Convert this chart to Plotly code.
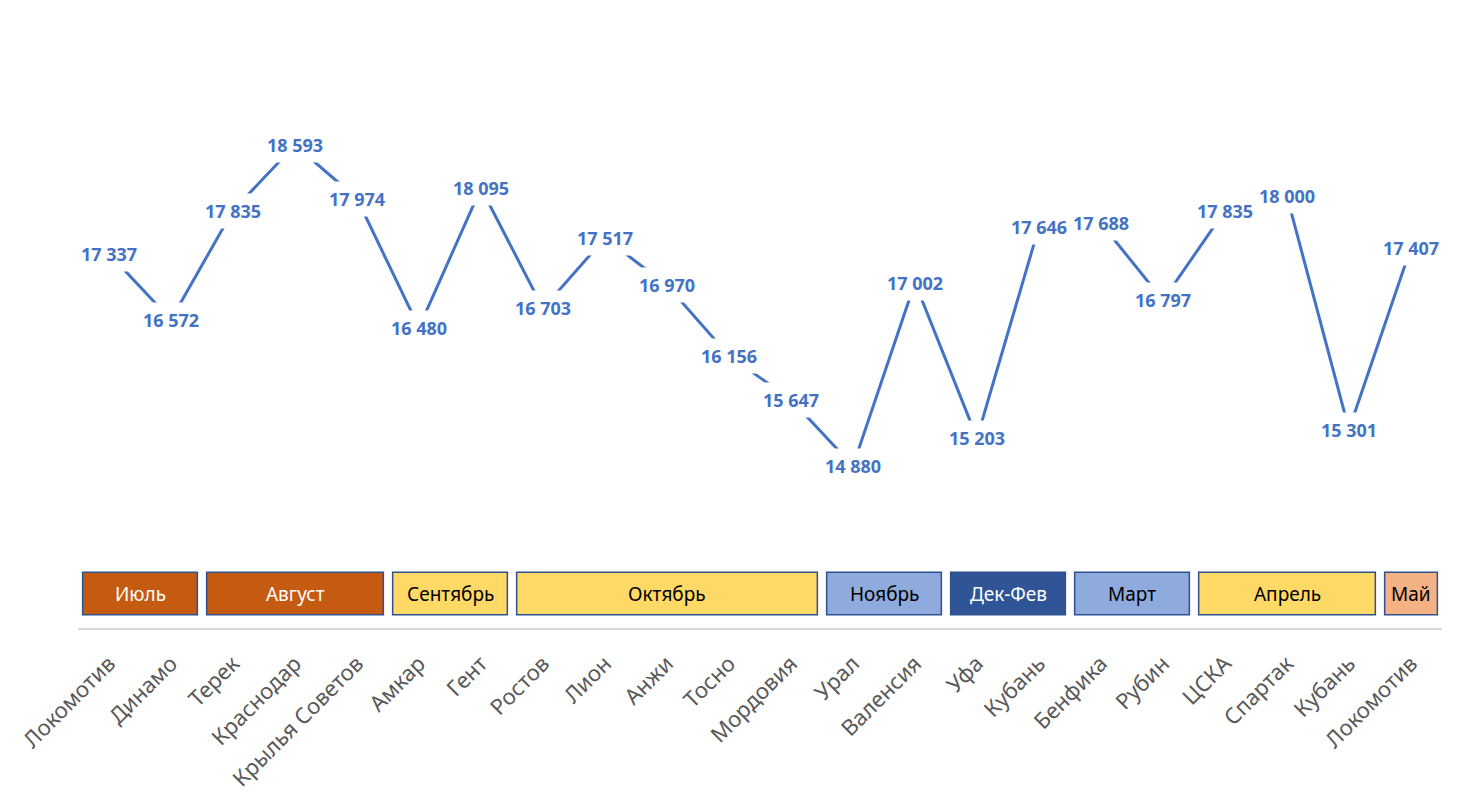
import plotly.graph_objects as go

teams = ["Локомотив", "Динамо", "Терек", "Краснодар", "Крылья Советов", "Амкар", "Гент",
         "Ростов", "Лион", "Анжи", "Тосно", "Мордовия", "Урал", "Валенсия", "Уфа", "Кубань",
         "Бенфика", "Рубин", "ЦСКА", "Спартак", "Кубань", "Локомотив"]
attendance = [17337, 16572, 17835, 18593, 17974, 16480, 18095, 16703, 17517, 16970, 16156,
              15647, 14880, 17002, 15203, 17646, 17688, 16797, 17835, 18000, 15301, 17407]

months = ["Июль", "Август", "Сентябрь", "Октябрь", "Ноябрь", "Дек-Фев", "Март", "Апрель", "Май"]
month_counts = [2, 3, 2, 5, 2, 2, 2, 3, 1]
month_fill = ["#C55A11", "#C55A11", "#FFD966", "#FFD966", "#8FAADC", "#2F5597", "#8FAADC", "#FFD966", "#F4B183"]
month_text = ["white", "white", "black", "black", "black", "white", "black", "black", "black"]

x = list(range(len(teams)))
FONT = "Noto Sans"
BLUE = "#4472C4"

fig = go.Figure()
fig.add_trace(go.Scatter(x=x, y=attendance, mode="lines",
                         line=dict(color=BLUE, width=3), hoverinfo="skip"))

for xi, v in zip(x, attendance):
    fig.add_annotation(x=xi, y=v, xref="x", yref="y", showarrow=False,
                       xanchor="center", yanchor="middle",
                       text=f"{v:,}".replace(",", " "),
                       font=dict(family=FONT, size=18, color=BLUE, weight="bold"),
                       bgcolor="white", borderpad=5)

start = 0
gap = 0.075
for m, c, fc, tc in zip(months, month_counts, month_fill, month_text):
    x0 = start - 0.5 + gap
    x1 = start + c - 0.5 - gap
    fig.add_shape(type="rect", xref="x", yref="paper", x0=x0, x1=x1, y0=0.0212, y1=0.0899,
                  fillcolor=fc, line=dict(color="#2F528F", width=1.5), layer="above")
    fig.add_annotation(x=(x0 + x1) / 2, y=0.0556, xref="x", yref="paper", showarrow=False,
                       xanchor="center", yanchor="middle",
                       text=m, font=dict(family=FONT, size=19, color=tc))
    start += c

fig.update_layout(
    width=1444, height=786,
    margin=dict(l=70, r=10, t=0, b=166),
    plot_bgcolor="white", paper_bgcolor="white",
    showlegend=False,
    xaxis=dict(range=[-0.5, len(teams) - 0.5], tickmode="array", tickvals=x, ticktext=teams,
               tickangle=-45, showgrid=False, zeroline=False, showline=True, automargin=False,
               linecolor="#D9D9D9", linewidth=2, ticks="", ticklabelstandoff=12,
               tickfont=dict(family=FONT, size=22, color="#595959")),
    yaxis=dict(range=[13006, 20178], visible=False, automargin=False),
)

fig.write_html("out.html")
